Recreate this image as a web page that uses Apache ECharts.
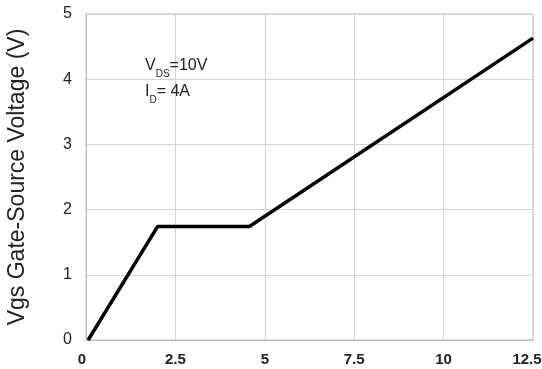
<!DOCTYPE html>
<html><head><meta charset="utf-8">
<script src="https://cdn.jsdelivr.net/npm/echarts@6/dist/echarts.min.js"></script>
<style>html,body{margin:0;padding:0;background:#fff}#c{width:542px;height:369px}</style>
</head><body><div id="c"></div>
<script>
var xTicks = [0, 2.5, 5, 7.5, 10, 12.5];
var yTicks = [0, 1, 2, 3, 4, 5];
var gateCharge = [0.06, 2.0, 4.57, 12.5];
var gateVoltage = [0, 1.74, 1.74, 4.63];

var chart = echarts.init(document.getElementById('c'));
var pts = gateCharge.map(function (x, i) { return [x, gateVoltage[i]]; });
chart.setOption({
  animation: false,
  grid: { left: 86, right: 9, top: 14, bottom: 29, show: true, borderColor: '#bbb', borderWidth: 1,
          containLabel: false, outerBoundsMode: 'none' },
  title: {
    left: 140, top: 48,
    text: '{v|V}{s|DS}{v|=10V}\n{v|I}{s|D}{v|= 4A}',
    textStyle: {
      fontWeight: 'normal',
      rich: {
        v: { fontFamily: 'Liberation Sans', fontSize: 16, fontWeight: 'normal', color: '#222', lineHeight: 26 },
        s: { fontFamily: 'Liberation Sans', fontSize: 10, fontWeight: 'normal', color: '#222', verticalAlign: 'bottom', padding: [5, 0, 0, 0], lineHeight: 26 }
      }
    }
  },
  xAxis: {
    type: 'value', min: 0, max: 12.5, interval: 2.5,
    axisLine: { show: true, lineStyle: { color: '#bbb' } },
    axisTick: { show: false },
    splitLine: { show: true, lineStyle: { color: '#d4d4d4', width: 1 } },
    axisLabel: { color: '#222', fontFamily: 'Liberation Sans', fontSize: 15, fontWeight: 'bold', margin: 12,
      formatter: function (v) {
        if (xTicks.indexOf(v) < 0) return '';
        if (v === xTicks[xTicks.length - 1]) return '{last|' + v + '}';
        if (v === xTicks[0]) return '{first|' + v + '}';
        return String(v);
      },
      rich: {
        last: { fontFamily: 'Liberation Sans', fontSize: 15, fontWeight: 'bold', color: '#222', padding: [0, 12, 0, 0] },
        first: { fontFamily: 'Liberation Sans', fontSize: 15, fontWeight: 'bold', color: '#222', padding: [0, 8, 0, 0] }
      }
    }
  },
  yAxis: {
    type: 'value', min: 0, max: 5, interval: 1,
    name: 'Vgs Gate-Source Voltage (V)', nameLocation: 'middle', nameGap: 57,
    nameTextStyle: { color: '#222', fontFamily: 'Liberation Sans', fontSize: 23 },
    axisLine: { show: true, lineStyle: { color: '#bbb' } },
    axisTick: { show: false },
    splitLine: { show: true, lineStyle: { color: '#d4d4d4', width: 1 } },
    axisLabel: { color: '#222', fontFamily: 'Liberation Sans', fontSize: 16, margin: 14,
      formatter: function (v) { return yTicks.indexOf(v) >= 0 ? String(v) : ''; } }
  },
  series: [{
    type: 'line', data: pts, symbol: 'none',
    lineStyle: { color: '#000', width: 3.5 }
  }]
});
</script></body></html>
